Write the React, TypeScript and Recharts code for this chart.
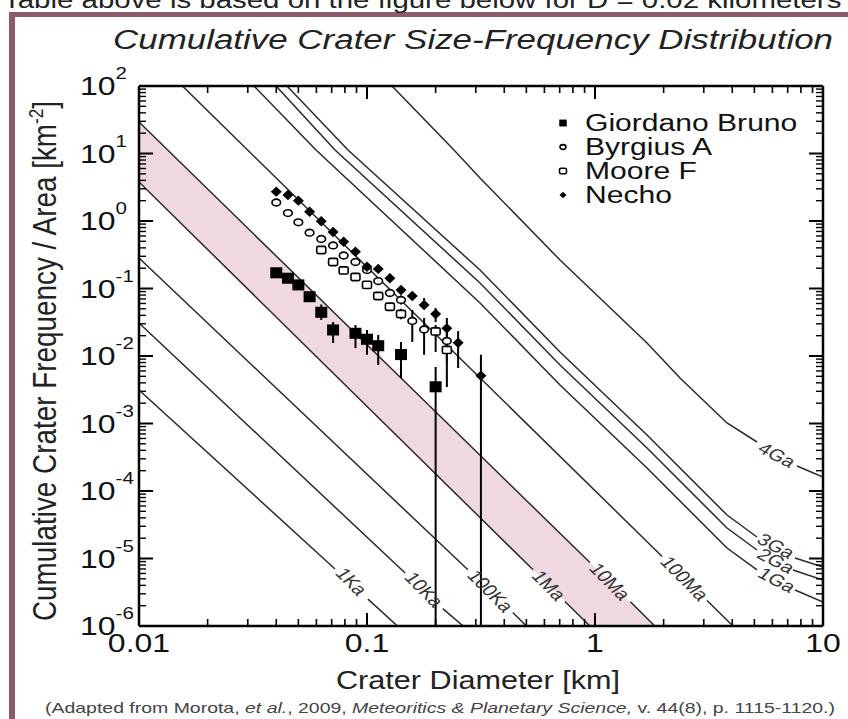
import React from 'react';
import { ComposedChart, XAxis, YAxis, Line, Area, Scatter, ErrorBar } from 'recharts';

// ---------- tick labels ----------
const xMajorTicks = [0.01, 0.1, 1, 10];
const xTickLabels = ['0.01', '0.1', '1', '10'];
const yMajorTicks = [1e-6, 1e-5, 1e-4, 1e-3, 1e-2, 1e-1, 1, 10, 100];
const yTickExponents = ['-6', '-5', '-4', '-3', '-2', '-1', '0', '1', '2'];
const minorSteps = [2, 3, 4, 5, 6, 7, 8, 9];

// ---------- crater counts (D km, N per km^2) ----------
const seriesNames = ['Giordano Bruno', 'Byrgius A', 'Moore F', 'Necho'];

const giordanoD = [0.04, 0.045, 0.05, 0.056, 0.063, 0.071, 0.089, 0.1, 0.112, 0.141, 0.2];
const giordanoN = [0.171, 0.142, 0.113, 0.0756, 0.0444, 0.0243, 0.0217, 0.0177, 0.0142, 0.0105, 0.0035];
const giordanoLow = [0.171, 0.142, 0.113, 0.0756, 0.0342, 0.0156, 0.0131, 0.0104, 0.00736, 0.00472, 1e-6];
const giordanoHigh = [0.171, 0.142, 0.113, 0.0756, 0.058, 0.0319, 0.0288, 0.0243, 0.0205, 0.0161, 0.00687];

const byrgiusD = [0.04, 0.045, 0.05, 0.056, 0.063, 0.071, 0.079, 0.089, 0.1, 0.112, 0.126, 0.141, 0.158, 0.178, 0.224];
const byrgiusN = [1.88, 1.31, 0.957, 0.671, 0.541, 0.434, 0.308, 0.247, 0.188, 0.129, 0.0857, 0.0676, 0.033, 0.0247, 0.0167];
const byrgiusLow = [1.88, 1.31, 0.957, 0.671, 0.541, 0.434, 0.308, 0.247, 0.188, 0.129, 0.075, 0.058, 0.0161, 0.0104, 0.0085];
const byrgiusHigh = [1.88, 1.31, 0.957, 0.671, 0.541, 0.434, 0.308, 0.247, 0.188, 0.129, 0.098, 0.079, 0.048, 0.0366, 0.025];

const mooreD = [0.063, 0.071, 0.079, 0.089, 0.1, 0.112, 0.126, 0.141, 0.2, 0.224];
const mooreN = [0.372, 0.247, 0.185, 0.148, 0.113, 0.0774, 0.0537, 0.0419, 0.0231, 0.0123];
const mooreLow = [0.372, 0.247, 0.185, 0.148, 0.113, 0.0774, 0.047, 0.035, 0.0115, 0.00347];
const mooreHigh = [0.372, 0.247, 0.185, 0.148, 0.113, 0.0774, 0.061, 0.05, 0.0288, 0.0191];

const nechoD = [0.04, 0.045, 0.05, 0.056, 0.063, 0.071, 0.079, 0.089, 0.1, 0.112, 0.126, 0.141, 0.158, 0.178, 0.2, 0.224, 0.251, 0.316];
const nechoN = [2.72, 2.43, 2.0, 1.37, 0.99, 0.687, 0.493, 0.351, 0.21, 0.195, 0.142, 0.095, 0.0774, 0.057, 0.0419, 0.0257, 0.0157, 0.0051];
const nechoLow = [2.72, 2.43, 2.0, 1.37, 0.99, 0.687, 0.493, 0.351, 0.21, 0.195, 0.142, 0.095, 0.068, 0.0514, 0.0319, 0.0173, 0.00664, 1e-6];
const nechoHigh = [2.72, 2.43, 2.0, 1.37, 0.99, 0.687, 0.493, 0.351, 0.21, 0.195, 0.142, 0.095, 0.088, 0.0722, 0.0514, 0.0366, 0.0234, 0.0104];

// ---------- isochrons (null = gap for the inline label) ----------
const isoNames = ['1Ka', '10Ka', '100Ka', '1Ma', '10Ma', '100Ma', '1Ga', '2Ga', '3Ga', '4Ga'];
const iso1KaD = [0.01, 0.0724, 0.085, 0.101, 0.136];
const iso1KaN = [3.13e-3, 7.0e-6, null, 2.5e-6, 1e-6];
const iso10KaD = [0.01, 0.147, 0.178, 0.215, 0.264];
const iso10KaN = [0.0308, 6.1e-6, null, 1.81e-6, 1e-6];
const iso100KaD = [0.01, 0.277, 0.348, 0.436, 0.5];
const iso100KaN = [0.283, 6.8e-6, null, 1.58e-6, 1e-6];
const iso1MaD = [0.01, 0.535, 0.628, 0.738, 0.95];
const iso1MaN = [3.78, 6.8e-6, null, 2.3e-6, 1e-6];
const iso10MaD = [0.01, 0.95, 1.164, 1.43, 1.83];
const iso10MaN = [29.3, 8.7e-6, null, 2.29e-6, 1e-6];
const iso100MaD = [0.0155, 1.97, 2.47, 3.1, 4.03];
const iso100MaN = [100, 1.07e-5, null, 2.39e-6, 1e-6];
const iso1GaD = [0.03194, 0.05975, 0.3131, 0.7023, 1.691, 3.793, 5.134, 6.28, 7.537, 10];
const iso1GaN = [100, 11.27, 0.06099, 0.003719, 2.19e-4, 1.431e-5, 6.76e-6, null, 3.41e-6, 2.27e-6];
const iso2GaD = [0.0399, 0.0724, 0.3131, 0.7023, 1.691, 3.793, 5.134, 6.22, 7.386, 10];
const iso2GaN = [100, 11.27, 0.1206, 0.007356, 4.335e-4, 2.83e-5, 1.336e-5, null, 6.76e-6, 4.8e-6];
const iso3GaD = [0.04458, 0.08254, 0.3131, 0.7023, 1.691, 3.793, 5.134, 6.22, 7.537, 10];
const iso3GaN = [100, 11.27, 0.1879, 0.01146, 6.756e-4, 4.41e-5, 2.083e-5, null, 1.017e-5, 7.48e-6];
const iso4GaD = [0.1287, 0.2407, 0.3131, 0.7023, 1.691, 2.36, 3.793, 5.134, 6.28, 7.691, 10];
const iso4GaN = [100, 11.27, 4.335, 0.2643, 0.01558, 0.004721, 0.001017, 5.32e-4, null, 2.346e-4, 1.612e-4];

const isoLabelD = [0.0855, 0.178, 0.348, 0.628, 1.164, 2.47, 6.28, 6.22, 6.22, 6.28];
const isoLabelN = [4.56e-6, 3.47e-6, 3.3e-6, 3.98e-6, 4.56e-6, 5.06e-6, 4.8e-6, 9.18e-6, 1.53e-5, 3.41e-4];

// ---------- shaded band between 1 Ma and 10 Ma ----------
const bandD = [0.01, 0.95, 1.83];
const bandLow = [3.78, 1e-6, 1e-6];
const bandHigh = [29.3, 8.7e-6, 1e-6];

// ---------- styling ----------
const FONT = "'Liberation Sans', Arial, Helvetica, sans-serif";
const SX = 1.28; // horizontal stretch of all lettering
const W = 848;
const H = 719;
const MARGIN = { top: 85, right: 24, bottom: 92, left: 138 };
const LINE_COLOR = '#2a2a2a';
const FRAME = '#8c5a6b';
const BAND = '#efd8e0';

// ---------- derived tables ----------
const mkPoints = (D: number[], N: number[], lo: number[], hi: number[]) =>
  D.map((d, i) => ({ d, n: N[i], err: [N[i] - lo[i], hi[i] - N[i]] }));
const mkLine = (D: number[], N: (number | null)[]) => D.map((d, i) => ({ d, n: N[i] }));

const giordanoData = mkPoints(giordanoD, giordanoN, giordanoLow, giordanoHigh);
const byrgiusData = mkPoints(byrgiusD, byrgiusN, byrgiusLow, byrgiusHigh);
const mooreData = mkPoints(mooreD, mooreN, mooreLow, mooreHigh);
const nechoData = mkPoints(nechoD, nechoN, nechoLow, nechoHigh);

const isoLines = [
  mkLine(iso1KaD, iso1KaN), mkLine(iso10KaD, iso10KaN), mkLine(iso100KaD, iso100KaN),
  mkLine(iso1MaD, iso1MaN), mkLine(iso10MaD, iso10MaN), mkLine(iso100MaD, iso100MaN),
  mkLine(iso1GaD, iso1GaN), mkLine(iso2GaD, iso2GaN), mkLine(iso3GaD, iso3GaN), mkLine(iso4GaD, iso4GaN),
];
const isoLabelData = isoNames.map((name, i) => ({ d: isoLabelD[i], n: isoLabelN[i], name }));
const bandData = bandD.map((d, i) => ({ d, band: [bandLow[i], bandHigh[i]] }));

const xTicks = [
  ...xMajorTicks,
  ...xMajorTicks.slice(0, -1).flatMap((m) => minorSteps.map((s) => m * s)),
];
const yTicks = [
  ...yMajorTicks,
  ...yMajorTicks.slice(0, -1).flatMap((m) => minorSteps.map((s) => m * s)),
];

const majorIndex = (list: number[], v: number) =>
  list.findIndex((m) => Math.abs(Math.log10(m) - Math.log10(v)) < 1e-6);

// ---------- tick renderers ----------
const BottomTick = (p: any) => {
  const { x, y, payload } = p;
  const idx = majorIndex(xMajorTicks, payload.value);
  const len = idx >= 0 ? 13 : 7;
  return (
    <g>
      <line x1={x} x2={x} y1={y} y2={y - len} stroke="#000" strokeWidth={idx >= 0 ? 2 : 1.6} />
      {idx >= 0 && (
        <text transform={`translate(${x},${y + 26}) scale(${SX},1)`} textAnchor="middle" fontSize={25} fontFamily={FONT} fill="#111">
          {xTickLabels[idx]}
        </text>
      )}
    </g>
  );
};
const TopTick = (p: any) => {
  const { x, y, payload } = p;
  const idx = majorIndex(xMajorTicks, payload.value);
  const len = idx >= 0 ? 13 : 7;
  return <line x1={x} x2={x} y1={y} y2={y + len} stroke="#000" strokeWidth={idx >= 0 ? 2 : 1.6} />;
};
const LeftTick = (p: any) => {
  const { x, y, payload } = p;
  const idx = majorIndex(yMajorTicks, payload.value);
  const len = idx >= 0 ? 14 : 7;
  return (
    <g>
      <line x1={x} x2={x + len} y1={y} y2={y} stroke="#000" strokeWidth={idx >= 0 ? 2 : 1.4} />
      {idx >= 0 && (
        <text transform={`translate(${x - 59},${y + 9}) scale(${SX},1)`} fontSize={25} fontFamily={FONT} fill="#111">
          10<tspan dy={-16} fontSize={16}>{yTickExponents[idx]}</tspan>
        </text>
      )}
    </g>
  );
};
const RightTick = (p: any) => {
  const { x, y, payload } = p;
  const idx = majorIndex(yMajorTicks, payload.value);
  const len = idx >= 0 ? 14 : 7;
  return <line x1={x} x2={x - len} y1={y} y2={y} stroke="#000" strokeWidth={idx >= 0 ? 2 : 1.4} />;
};

// ---------- markers ----------
const FilledSquare = ({ cx, cy, s = 12 }: any) => (
  <rect x={cx - s / 2} y={cy - s * 0.46} width={s} height={s * 0.92} fill="#000" />
);
const OpenCircle = ({ cx, cy, s = 8.6 }: any) => (
  <ellipse cx={cx} cy={cy} rx={s / 2} ry={s * 0.39} fill="#fff" stroke="#000" strokeWidth={1.6} />
);
const OpenSquare = ({ cx, cy, s = 9 }: any) => (
  <rect x={cx - s / 2} y={cy - s * 0.4} width={s} height={s * 0.8} rx={1.5} fill="#fff" stroke="#000" strokeWidth={1.6} />
);
const Diamond = ({ cx, cy, s = 11 }: any) => (
  <polygon points={`${cx - s / 2},${cy} ${cx},${cy - s * 0.47} ${cx + s / 2},${cy} ${cx},${cy + s * 0.47}`} fill="#000" />
);
const markerFor = [FilledSquare, OpenCircle, OpenSquare, Diamond];
const legendSize = [7.5, 6, 7, 7];

const IsoLabel = (p: any) => {
  const { cx, cy, payload } = p;
  const old = payload.name.endsWith('Ga');
  const ang = old ? 34 : 52;
  return (
    <text
      transform={`translate(${cx},${cy}) scale(${SX},1) rotate(${ang})`}
      textAnchor="middle"
      dominantBaseline="central"
      fontSize={16.5}
      fontFamily={FONT}
      fill="#333"
    >
      {payload.name}
    </text>
  );
};

const axisLineStyle = { stroke: '#000', strokeWidth: 2.5 };

export default function App() {
  return (
    <div style={{ position: 'absolute', left: 0, top: 0, width: W, height: H, background: '#fff', overflow: 'hidden' }}>
      <ComposedChart width={W} height={H} margin={MARGIN}>
        <Area
          xAxisId="b"
          yAxisId="l"
          data={bandData}
          dataKey="band"
          type="linear"
          stroke="none"
          fill={BAND}
          fillOpacity={1}
          isAnimationActive={false}
        />

        {isoLines.map((data, i) => (
          <Line
            key={isoNames[i]}
            xAxisId="b"
            yAxisId="l"
            data={data}
            dataKey="n"
            type="linear"
            stroke={LINE_COLOR}
            strokeWidth={1.5}
            dot={false}
            activeDot={false}
            connectNulls={false}
            isAnimationActive={false}
          />
        ))}

        <Scatter xAxisId="b" yAxisId="l" data={isoLabelData} shape={<IsoLabel />} isAnimationActive={false} />

        {[giordanoData, byrgiusData, mooreData, nechoData].map((data, i) => {
          const M = markerFor[i];
          return (
            <Scatter
              key={seriesNames[i]}
              name={seriesNames[i]}
              xAxisId="b"
              yAxisId="l"
              data={data}
              fill="#000"
              shape={(p: any) => <M cx={p.cx} cy={p.cy} />}
              isAnimationActive={false}
            >
              <ErrorBar dataKey="err" direction="y" width={0} stroke="#000" strokeWidth={2} />
            </Scatter>
          );
        })}

        <XAxis
          xAxisId="b"
          type="number"
          dataKey="d"
          scale="log"
          domain={[0.01, 10]}
          allowDataOverflow
          ticks={xTicks}
          interval={0}
          tick={<BottomTick />}
          tickLine={false}
          tickSize={0}
          tickMargin={0}
          height={1}
          axisLine={axisLineStyle}
        />
        <XAxis
          xAxisId="t"
          orientation="top"
          type="number"
          dataKey="d"
          scale="log"
          domain={[0.01, 10]}
          allowDataOverflow
          ticks={xTicks}
          interval={0}
          tick={<TopTick />}
          tickLine={false}
          tickSize={0}
          tickMargin={0}
          height={1}
          axisLine={axisLineStyle}
        />
        <YAxis
          yAxisId="l"
          type="number"
          dataKey="n"
          scale="log"
          domain={[1e-6, 100]}
          allowDataOverflow
          ticks={yTicks}
          interval={0}
          tick={<LeftTick />}
          tickLine={false}
          tickSize={0}
          tickMargin={0}
          width={1}
          axisLine={axisLineStyle}
        />
        <YAxis
          yAxisId="r"
          orientation="right"
          type="number"
          dataKey="n"
          scale="log"
          domain={[1e-6, 100]}
          allowDataOverflow
          ticks={yTicks}
          interval={0}
          tick={<RightTick />}
          tickLine={false}
          tickSize={0}
          tickMargin={0}
          width={1}
          axisLine={axisLineStyle}
        />
      </ComposedChart>

      <svg width={W} height={H} style={{ position: 'absolute', left: 0, top: 0, pointerEvents: 'none' }}>
        <rect x={9} y={12} width={6} height={H} fill={FRAME} />
        <rect x={9} y={12} width={W} height={5} fill={FRAME} />
        <text transform={`translate(3,8) scale(${SX},1)`} fontSize={23} fontFamily={FONT} fill="#222">
          Table above is based on the figure below for D = 0.02 kilometers
        </text>
        <text
          transform={`translate(473,49) scale(${SX},1)`}
          textAnchor="middle"
          fontSize={27}
          fontStyle="italic"
          fontFamily={FONT}
          fill="#222"
          textLength={720 / SX}
          lengthAdjust="spacingAndGlyphs"
        >
          Cumulative Crater Size-Frequency Distribution
        </text>
        <text
          transform={`translate(56,361) scale(${SX},1) rotate(-90)`}
          textAnchor="middle"
          fontSize={26}
          fontFamily={FONT}
          fill="#222"
          textLength={520}
          lengthAdjust="spacingAndGlyphs"
        >
          Cumulative Crater Frequency / Area [km<tspan dy={-10} fontSize={16}>-2</tspan><tspan dy={10}>]</tspan>
        </text>
        <text
          transform={`translate(478,689) scale(${SX},1)`}
          textAnchor="middle"
          fontSize={25}
          fontFamily={FONT}
          fill="#222"
          textLength={284 / SX}
          lengthAdjust="spacingAndGlyphs"
        >
          Crater Diameter [km]
        </text>
        <text
          transform={`translate(440,713) scale(${SX},1)`}
          textAnchor="middle"
          fontSize={14}
          fontFamily={FONT}
          fill="#444"
          textLength={790 / SX}
          lengthAdjust="spacingAndGlyphs"
        >
          (Adapted from Morota, <tspan fontStyle="italic">et al.</tspan>, 2009, <tspan fontStyle="italic">Meteoritics &amp; Planetary Science,</tspan> v. 44(8), p. 1115-1120.)
        </text>
        {seriesNames.map((name, i) => {
          const M = markerFor[i];
          const by = 131 + i * 24;
          return (
            <g key={name}>
              <M cx={563} cy={by - 8} s={legendSize[i]} />
              <text transform={`translate(585,${by}) scale(${SX},1)`} fontSize={23.5} fontFamily={FONT} fill="#111">
                {name}
              </text>
            </g>
          );
        })}
      </svg>
    </div>
  );
}
